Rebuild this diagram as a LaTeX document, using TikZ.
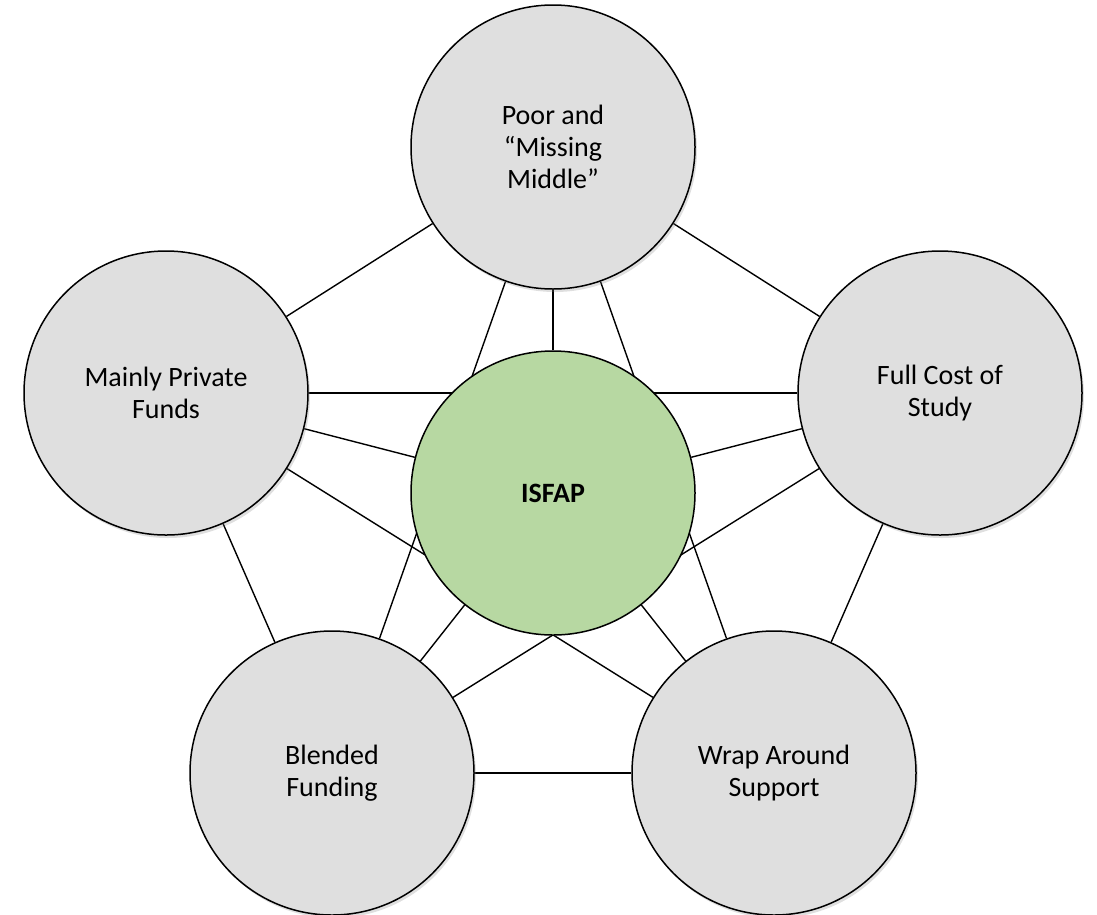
\documentclass[tikz,border=0pt]{standalone}
\usepackage{fontspec}
\setmainfont{Carlito}
\usepackage{xcolor}
\usepackage{tikz}
\usetikzlibrary{positioning,shadows}
\pgfdeclarelayer{background}
\pgfsetlayers{background,main}

\definecolor{cellgray}{RGB}{223,223,223}
\definecolor{hubgreen}{RGB}{183,216,162}

\begin{document}
\begin{tikzpicture}[
            x=1pt, y=-1pt,
            outer/.style={fill=cellgray, drop shadow={shadow xshift=2pt, shadow yshift=-3pt, opacity=0.25}},
            hub/.style={fill=hubgreen},
            spoke/.style={line width=1.4pt},
            auto
        ]
            \useasboundingbox (0,0) rectangle (1097,914);
            \begin{scope}[
                every node/.style={circle, draw, line width=1.5pt, minimum size=284pt, align=center, font=\fontsize{28}{32}\selectfont}
            ]
                % Vertices
                \node[outer] (mid)   at (553,147) {Poor and\\“Missing\\Middle”};
                \node[outer] (priv)  at (166,393) {Mainly Private\\Funds};
                \node[outer] (cost)  at (940,393) {Full Cost of\\Study};
                \node[outer] (blend) at (332,773) {Blended\\Funding};
                \node[outer] (wrap)  at (774,773) {Wrap Around\\Support};
                \node[hub]   (isfap) at (553,493) {\textbf{ISFAP}};
                % Edges
                \begin{pgfonlayer}{background}
                \draw[spoke] (mid) -- (priv);    % outer ring
                \draw[spoke] (mid) -- (cost);
                \draw[spoke] (priv) -- (blend);
                \draw[spoke] (cost) -- (wrap);
                \draw[spoke] (blend) -- (wrap);
                \draw[spoke] (mid) -- (blend);   % star
                \draw[spoke] (mid) -- (wrap);
                \draw[spoke] (priv) -- (cost);
                \draw[spoke] (priv) -- (wrap);
                \draw[spoke] (cost) -- (blend);
                \draw[spoke] (isfap) -- (mid);   % hub
                \draw[spoke] (isfap) -- (priv);
                \draw[spoke] (isfap) -- (cost);
                \draw[spoke] (isfap) -- (blend);
                \draw[spoke] (isfap) -- (wrap);
                \end{pgfonlayer}
            \end{scope}
        \end{tikzpicture}
\end{document}
